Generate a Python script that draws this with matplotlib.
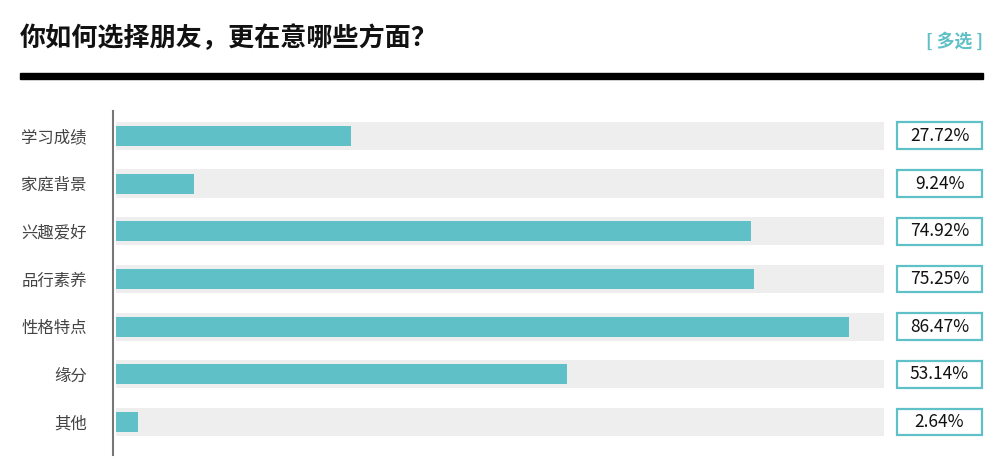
import matplotlib.pyplot as plt
import matplotlib.transforms as mtransforms
from matplotlib.patches import Rectangle

plt.rcParams['font.family'] = ['Noto Sans CJK SC', 'DejaVu Sans']

# data
categories = ["学习成绩", "家庭背景", "兴趣爱好", "品行素养", "性格特点", "缘分", "其他"]
values = [27.72, 9.24, 74.92, 75.25, 86.47, 53.14, 2.64]
title = "你如何选择朋友，更在意哪些方面？"
tag = "[ 多选 ]"

teal = "#5fc0c7"
track = "#eeeeee"
W, H = 1005, 472

fig = plt.figure(figsize=(W / 100, H / 100), dpi=100)
# axes from x=116px to 884px, y=111px to 455px
ax = fig.add_axes([116 / W, 1 - 455 / H, (884 - 116) / W, (455 - 111) / H])
xmax = (884 - 116) / 848 * 100
ypos = list(range(len(categories)))

ax.barh(ypos, [xmax] * len(ypos), height=0.59, color=track, zorder=1)
ax.barh(ypos, values, height=0.42, color=teal, zorder=2)
ax.set_xlim(0, xmax)
ax.set_ylim(len(categories) - 0.31, -0.52)

for s in ["top", "right", "bottom"]:
    ax.spines[s].set_visible(False)
ax.spines["left"].set_color("#777777")
ax.spines["left"].set_linewidth(1.5)
ax.spines["left"].set_position(("outward", 2))
ax.set_xticks([])
ax.set_yticks(ypos)
ax.set_yticklabels(categories, fontsize=11.8, color="#444444")
ax.tick_params(axis="y", length=0, pad=19)

# value boxes on the right
trans = mtransforms.blended_transform_factory(fig.transFigure, ax.transData)
for y, v in zip(ypos, values):
    ax.add_patch(Rectangle((897 / W, y - 0.28), 85 / W, 0.56, transform=trans,
                           facecolor="white", edgecolor=teal, linewidth=1.6,
                           clip_on=False, zorder=3))
    ax.text(939.5 / W, y, f"{v:.2f}%", transform=trans, ha="center", va="center",
            fontsize=12.5, color="#111111", zorder=4)

# header
fig.text(20 / W, 1 - 39 / H, title, fontsize=18.8, fontweight="bold",
         ha="left", va="center", color="#111111")
fig.text(983 / W, 1 - 42 / H, tag, fontsize=12.8, fontweight="bold",
         ha="right", va="center", color=teal)
fig.add_artist(Rectangle((20 / W, 1 - 79 / H), 963 / W, 6 / H,
                         transform=fig.transFigure, color="black"))

fig.savefig("out.png", dpi=100)
